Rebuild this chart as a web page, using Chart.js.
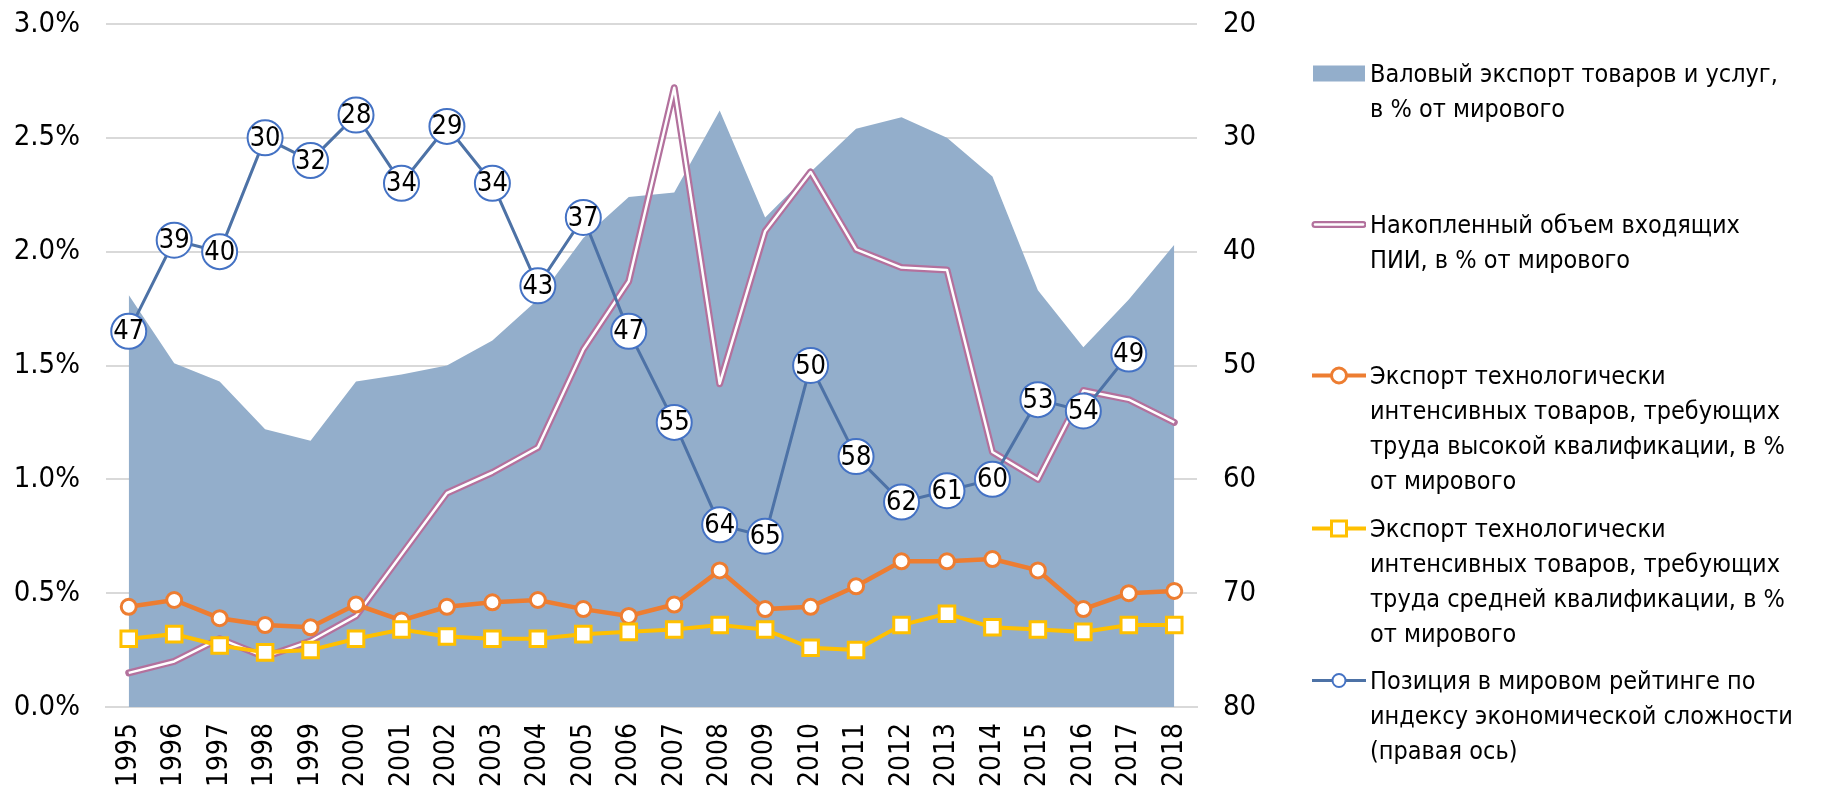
<!DOCTYPE html>
<html>
<head>
<meta charset="utf-8">
<script src="https://cdn.jsdelivr.net/npm/chart.js@4.4.1/dist/chart.umd.min.js"></script>
<style>
    html, body { margin: 0; padding: 0; background: #fff; }
    #wrap { position: relative; width: 1829px; height: 788px; overflow: hidden; }
    #chart { position: absolute; left: 0; top: 0; }
    .legend-item { position: absolute; left: 1310px; font-family: "DejaVu Sans Condensed", "DejaVu Sans", sans-serif; font-size: 25px; line-height: 35px; color: #000; }
    .legend-item svg { position: absolute; left: 0; top: 0; }
    .legend-item .txt { position: absolute; left: 60px; top: 0; white-space: nowrap; }
</style>
</head>
<body>
<div id="wrap">
    <canvas id="chart" width="1829" height="788"></canvas>
    <div id="legend"></div>
</div>
<script>
const years = ['1995', '1996', '1997', '1998', '1999', '2000', '2001', '2002', '2003', '2004', '2005', '2006',
    '2007', '2008', '2009', '2010', '2011', '2012', '2013', '2014', '2015', '2016', '2017', '2018'];

// % of world, left axis
const grossExports = [1.81, 1.51, 1.43, 1.22, 1.17, 1.43, 1.46, 1.50, 1.61, 1.79, 2.06, 2.24,
    2.26, 2.62, 2.15, 2.35, 2.54, 2.59, 2.50, 2.33, 1.83, 1.58, 1.79, 2.03];
const fdiStock = [0.15, 0.20, 0.30, 0.22, 0.29, 0.40, 0.67, 0.94, 1.03, 1.14, 1.57, 1.87,
    2.72, 1.42, 2.09, 2.35, 2.01, 1.93, 1.92, 1.12, 1.00, 1.39, 1.35, 1.25];
const highSkillExports = [0.44, 0.47, 0.39, 0.36, 0.35, 0.45, 0.38, 0.44, 0.46, 0.47, 0.43, 0.40,
    0.45, 0.60, 0.43, 0.44, 0.53, 0.64, 0.64, 0.65, 0.60, 0.43, 0.50, 0.51];
const mediumSkillExports = [0.30, 0.32, 0.27, 0.24, 0.25, 0.30, 0.34, 0.31, 0.30, 0.30, 0.32, 0.33,
    0.34, 0.36, 0.34, 0.26, 0.25, 0.36, 0.41, 0.35, 0.34, 0.33, 0.36, 0.36];

// rank, right axis (reversed)
const complexityRank = [47, 39, 40, 30, 32, 28, 34, 29, 34, 43, 37, 47,
    55, 64, 65, 50, 58, 62, 61, 60, 53, 54, 49, null];

const leftTicks = [0, 0.5, 1.0, 1.5, 2.0, 2.5, 3.0];
const rightTicks = [20, 30, 40, 50, 60, 70, 80];

const legendItems = [
    { kind: 'area', top: 56, lines: ['Валовый экспорт товаров и услуг,', 'в % от мирового'] },
    { kind: 'double', top: 207, lines: ['Накопленный объем входящих', 'ПИИ, в % от мирового'] },
    { kind: 'circle', top: 358, lines: ['Экспорт технологически', 'интенсивных товаров, требующих', 'труда высокой квалификации, в %', 'от мирового'] },
    { kind: 'square', top: 511, lines: ['Экспорт технологически', 'интенсивных товаров, требующих', 'труда средней квалификации, в %', 'от мирового'] },
    { kind: 'rank', top: 663, lines: ['Позиция в мировом рейтинге по', 'индексу экономической сложности', '(правая ось)'] }
];

const FONT = '"DejaVu Sans Condensed", "DejaVu Sans", sans-serif';
const AREA = '#93aecb';
const PINK = '#b3719d';
const ORANGE = '#ed7d31';
const YELLOW = '#ffc000';
const BLUE_LINE = '#4d72a6';
const BLUE_MARK = '#4472c4';

function symbolSvg(kind) {
    const w = 56, h = 35, c = 17.5;
    if (kind === 'area') {
        return `<svg width="${w}" height="${h}"><rect x="3" y="${c - 8}" width="52" height="16" fill="${AREA}"/></svg>`;
    }
    if (kind === 'double') {
        return `<svg width="${w}" height="${h}"><line x1="5" y1="${c}" x2="53" y2="${c}" stroke="${PINK}" stroke-width="7" stroke-linecap="round"/>` +
            `<line x1="5" y1="${c}" x2="53" y2="${c}" stroke="#fff" stroke-width="2.5" stroke-linecap="round"/></svg>`;
    }
    if (kind === 'circle') {
        return `<svg width="${w}" height="${h}"><line x1="2" y1="${c}" x2="56" y2="${c}" stroke="${ORANGE}" stroke-width="4"/>` +
            `<circle cx="29" cy="${c}" r="7.5" fill="#fff" stroke="${ORANGE}" stroke-width="3"/></svg>`;
    }
    if (kind === 'square') {
        return `<svg width="${w}" height="${h}"><line x1="2" y1="${c}" x2="56" y2="${c}" stroke="${YELLOW}" stroke-width="4"/>` +
            `<rect x="21.5" y="${c - 7.5}" width="15" height="15" fill="#fff" stroke="${YELLOW}" stroke-width="3"/></svg>`;
    }
    return `<svg width="${w}" height="${h}"><line x1="2" y1="${c}" x2="56" y2="${c}" stroke="${BLUE_LINE}" stroke-width="3"/>` +
        `<circle cx="29" cy="${c}" r="6.5" fill="#fff" stroke="${BLUE_MARK}" stroke-width="2"/></svg>`;
}

const legendEl = document.getElementById('legend');
legendItems.forEach(item => {
    const div = document.createElement('div');
    div.className = 'legend-item';
    div.style.top = item.top + 'px';
    div.innerHTML = symbolSvg(item.kind) + `<div class="txt">${item.lines.join('<br>')}</div>`;
    legendEl.appendChild(div);
});

// numbers inside the rank markers
const rankLabels = {
    id: 'rankLabels',
    afterDatasetsDraw(chart) {
        const idx = chart.data.datasets.findIndex(d => d.id === 'rank');
        const meta = chart.getDatasetMeta(idx);
        const ctx = chart.ctx;
        ctx.save();
        ctx.font = `27px ${FONT}`;
        ctx.fillStyle = '#000';
        ctx.textAlign = 'center';
        ctx.textBaseline = 'middle';
        meta.data.forEach((pt, i) => {
            if (complexityRank[i] == null) return;
            ctx.fillText(String(complexityRank[i]), pt.x, pt.y + 1);
        });
        ctx.restore();
    }
};

// y axes: fixed width, and no extra top/bottom padding from the tick padding
function fitY(width) {
    return s => {
        s.width = width;
        s.paddingTop = 0;
        s.paddingBottom = 0;
    };
}

Chart.defaults.font.family = FONT;
Chart.defaults.font.size = 28;
Chart.defaults.color = '#000';

new Chart(document.getElementById('chart').getContext('2d'), {
    type: 'line',
    data: {
        labels: years,
        datasets: [
            {
                id: 'rank',
                data: complexityRank,
                yAxisID: 'y1',
                borderColor: BLUE_LINE,
                borderWidth: 3,
                pointRadius: 17.5,
                pointBackgroundColor: '#fff',
                pointBorderColor: BLUE_MARK,
                pointBorderWidth: 2,
                spanGaps: false,
                order: 0
            },
            {
                data: mediumSkillExports,
                yAxisID: 'y',
                borderColor: YELLOW,
                borderWidth: 4,
                pointStyle: 'rect',
                pointRadius: 11,
                pointBackgroundColor: '#fff',
                pointBorderColor: YELLOW,
                pointBorderWidth: 3,
                order: 1
            },
            {
                data: highSkillExports,
                yAxisID: 'y',
                borderColor: ORANGE,
                borderWidth: 4.5,
                pointRadius: 7.5,
                pointBackgroundColor: '#fff',
                pointBorderColor: ORANGE,
                pointBorderWidth: 3,
                order: 2
            },
            {
                data: fdiStock,
                yAxisID: 'y',
                borderColor: '#fff',
                borderWidth: 2.5,
                borderJoinStyle: 'round',
                pointRadius: 0,
                order: 3
            },
            {
                data: fdiStock,
                yAxisID: 'y',
                borderColor: PINK,
                borderWidth: 7,
                borderJoinStyle: 'round',
                borderCapStyle: 'round',
                pointRadius: 0,
                order: 4
            },
            {
                data: grossExports,
                yAxisID: 'y',
                borderWidth: 0,
                backgroundColor: AREA,
                fill: 'origin',
                pointRadius: 0,
                order: 5
            }
        ]
    },
    options: {
        responsive: false,
        animation: false,
        layout: { padding: { left: 14, right: 570, top: 24, bottom: 0 } },
        plugins: {
            legend: { display: false },
            tooltip: { enabled: false }
        },
        scales: {
            x: {
                offset: true,
                grid: { display: false, drawTicks: false },
                border: { color: '#d9d9d9', width: 2 },
                ticks: { maxRotation: 90, minRotation: 90, padding: 16, autoSkip: false, font: { size: 28 } },
                afterFit: s => { s.height = 81; }
            },
            y: {
                position: 'left',
                min: 0,
                max: 3,
                afterBuildTicks: s => { s.ticks = leftTicks.map(v => ({ value: v })); },
                ticks: { padding: 26, font: { size: 29 }, callback: v => v.toFixed(1) + '%' },
                grid: { color: '#d9d9d9', lineWidth: 2, drawTicks: false },
                border: { display: false },
                afterFit: fitY(92)
            },
            y1: {
                position: 'right',
                reverse: true,
                min: 20,
                max: 80,
                afterBuildTicks: s => { s.ticks = rightTicks.map(v => ({ value: v })); },
                ticks: { padding: 26, font: { size: 29 } },
                grid: { drawOnChartArea: false, drawTicks: false },
                border: { display: false },
                afterFit: fitY(62)
            }
        }
    },
    plugins: [rankLabels]
});
</script>
</body>
</html>
